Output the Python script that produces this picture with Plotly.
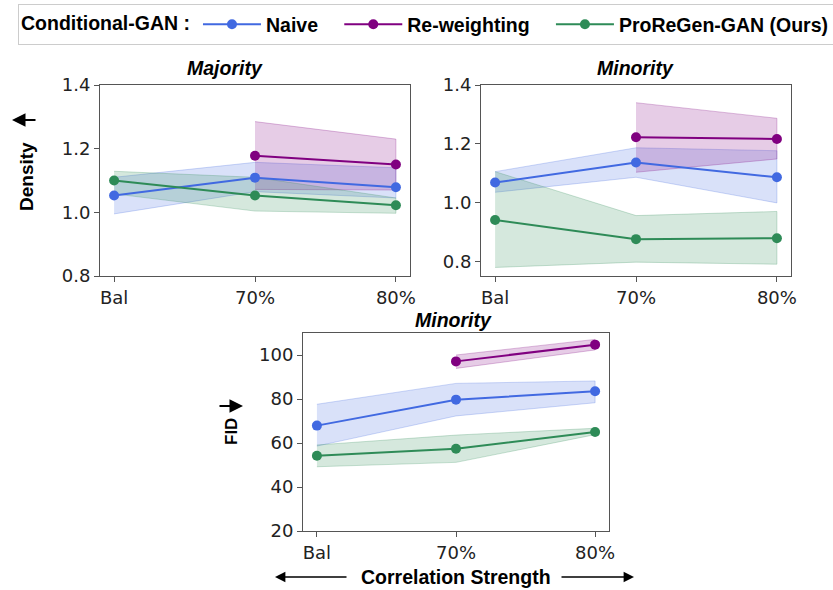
import plotly.graph_objects as go

W, H = 833, 590

categories = ["Bal", "70%", "80%"]
series_names = ["Naive", "Re-weighting", "ProReGen-GAN (Ours)"]
legend_pad = {"Naive": 3, "Re-weighting": 3, "ProReGen-GAN (Ours)": 0}
colors = {"Naive": (65, 105, 225), "Re-weighting": (128, 0, 128), "ProReGen-GAN (Ours)": (46, 139, 87)}

# Density - Majority
maj_naive = [1.053, 1.109, 1.079]
maj_naive_lo = [0.995, 1.065, 1.045]
maj_naive_hi = [1.11, 1.157, 1.14]
maj_rw = [None, 1.178, 1.150]
maj_rw_lo = [None, 1.072, 1.070]
maj_rw_hi = [None, 1.285, 1.230]
maj_pro = [1.100, 1.053, 1.022]
maj_pro_lo = [1.058, 1.004, 0.997]
maj_pro_hi = [1.129, 1.110, 1.045]

# Density - Minority
min_naive = [1.069, 1.137, 1.087]
min_naive_lo = [1.036, 1.087, 1.000]
min_naive_hi = [1.106, 1.187, 1.177]
min_rw = [None, 1.223, 1.217]
min_rw_lo = [None, 1.104, 1.149]
min_rw_hi = [None, 1.340, 1.287]
min_pro = [0.942, 0.877, 0.880]
min_pro_lo = [0.781, 0.799, 0.792]
min_pro_hi = [1.106, 0.957, 0.971]

# FID - Minority
fid_naive = [67.9, 79.7, 83.5]
fid_naive_lo = [58.6, 72.3, 78.3]
fid_naive_hi = [77.6, 87.1, 88.2]
fid_rw = [None, 97.1, 104.7]
fid_rw_lo = [None, 93.9, 102.3]
fid_rw_hi = [None, 100.0, 107.1]
fid_pro = [54.2, 57.4, 65.0]
fid_pro_lo = [49.2, 51.2, 63.8]
fid_pro_hi = [59.1, 63.6, 66.7]

panels = [
    ("x", "y", {"Naive": (maj_naive, maj_naive_lo, maj_naive_hi),
                "Re-weighting": (maj_rw, maj_rw_lo, maj_rw_hi),
                "ProReGen-GAN (Ours)": (maj_pro, maj_pro_lo, maj_pro_hi)}),
    ("x2", "y2", {"Naive": (min_naive, min_naive_lo, min_naive_hi),
                  "Re-weighting": (min_rw, min_rw_lo, min_rw_hi),
                  "ProReGen-GAN (Ours)": (min_pro, min_pro_lo, min_pro_hi)}),
    ("x3", "y3", {"Naive": (fid_naive, fid_naive_lo, fid_naive_hi),
                  "Re-weighting": (fid_rw, fid_rw_lo, fid_rw_hi),
                  "ProReGen-GAN (Ours)": (fid_pro, fid_pro_lo, fid_pro_hi)}),
]

fig = go.Figure()
xs = list(range(len(categories)))

# bands first
for xa, ya, data in panels:
    for name in series_names:
        mean, lo, hi = data[name]
        idx = [i for i in xs if mean[i] is not None]
        r, g, b = colors[name]
        px = [xs[i] for i in idx] + [xs[i] for i in reversed(idx)]
        py = [hi[i] for i in idx] + [lo[i] for i in reversed(idx)]
        fig.add_trace(go.Scatter(x=px, y=py, fill="toself", mode="lines",
                                 line=dict(color=f"rgba({r},{g},{b},0.25)", width=1),
                                 fillcolor=f"rgba({r},{g},{b},0.2)",
                                 xaxis=xa, yaxis=ya, showlegend=False, hoverinfo="skip"))

for k, (xa, ya, data) in enumerate(panels):
    for name in series_names:
        mean, lo, hi = data[name]
        idx = [i for i in xs if mean[i] is not None]
        r, g, b = colors[name]
        fig.add_trace(go.Scatter(x=[xs[i] for i in idx], y=[mean[i] for i in idx],
                                 mode="lines+markers", name=name + "\u00a0" * legend_pad[name],
                                 line=dict(color=f"rgb({r},{g},{b})", width=2),
                                 marker=dict(size=10, color=f"rgb({r},{g},{b})"),
                                 xaxis=xa, yaxis=ya, showlegend=(k == 0)))

def dom_x(a, b):
    return [a / W, b / W]

def dom_y(top, bot):
    return [1 - bot / H, 1 - top / H]

tickfont = dict(family="DejaVu Sans", size=18, color="#222")
axcommon = dict(showgrid=False, zeroline=False, showline=True, mirror=True,
                linecolor="#555", linewidth=1, ticks="outside", ticklen=5,
                tickcolor="#555", tickfont=tickfont)

fig.update_layout(
    width=W, height=H, margin=dict(l=0, r=0, t=0, b=0, autoexpand=False),
    paper_bgcolor="white", plot_bgcolor="white",
    xaxis=dict(domain=dom_x(100, 410), range=[-0.1, 2.1], tickvals=xs, ticktext=categories, anchor="y", **axcommon),
    yaxis=dict(domain=dom_y(85, 276), range=[0.8, 1.4], tickvals=[0.8, 1.0, 1.2, 1.4],
               ticktext=["0.8", "1.0", "1.2", "1.4"], anchor="x", **axcommon),
    xaxis2=dict(domain=dom_x(481, 791), range=[-0.1, 2.1], tickvals=xs, ticktext=categories, anchor="y2", **axcommon),
    yaxis2=dict(domain=dom_y(85, 276), range=[0.752, 1.4], tickvals=[0.8, 1.0, 1.2, 1.4],
                ticktext=["0.8", "1.0", "1.2", "1.4"], anchor="x2", **axcommon),
    xaxis3=dict(domain=dom_x(303, 609), range=[-0.1, 2.1], tickvals=xs, ticktext=categories, anchor="y3", **axcommon),
    yaxis3=dict(domain=dom_y(333, 531), range=[20, 110], tickvals=[20, 40, 60, 80, 100], anchor="x3", **axcommon),
    legend=dict(orientation="h", x=18 / W, y=1 - 4 / H, xanchor="left", yanchor="top",
                bordercolor="#cccccc", borderwidth=1, bgcolor="white",
                font=dict(family="Liberation Sans", size=19.5, color="#000", weight="bold"),
                title=dict(text="Conditional-GAN :", side="left",
                           font=dict(family="Liberation Sans", size=19.5, color="#000", weight="bold")),
                itemwidth=58, tracegroupgap=0),
    showlegend=True,
)

def ann(text, x, y, size=19.5, angle=0, italic=False, bold=True, family="Liberation Sans"):
    fig.add_annotation(text=text, x=x / W, y=1 - y / H, xref="paper", yref="paper",
                       showarrow=False, textangle=angle, xanchor="center", yanchor="middle",
                       font=dict(family=family, size=size, color="#000",
                                 weight="bold" if bold else "normal",
                                 style="italic" if italic else "normal"))

def arrow(x_head, x_tail, y, size=1.3, width=1.6):
    fig.add_annotation(x=x_head / W, y=1 - y / H, xref="paper", yref="paper", text="",
                       showarrow=True, ax=x_tail - x_head, ay=0, arrowhead=2, arrowsize=size,
                       arrowwidth=width, arrowcolor="#000")

ann("Majority", 225, 68, italic=True)
ann("Minority", 635, 68, italic=True)
ann("Minority", 453, 320, italic=True)
ann("Density", 26, 177, size=19, angle=-90)
ann("FID", 231, 432, size=17, angle=-90)
ann("Correlation Strength", 456, 577, size=19.5)

arrow(12, 37, 120, size=1.5, width=1.8)
arrow(243, 218, 406, size=1.5, width=1.8)
arrow(275, 348, 577)
arrow(634, 560, 577)

fig.write_html("out.html", config={"displayModeBar": False},
               post_script="document.body.style.margin='0';document.body.style.overflow='hidden';")
